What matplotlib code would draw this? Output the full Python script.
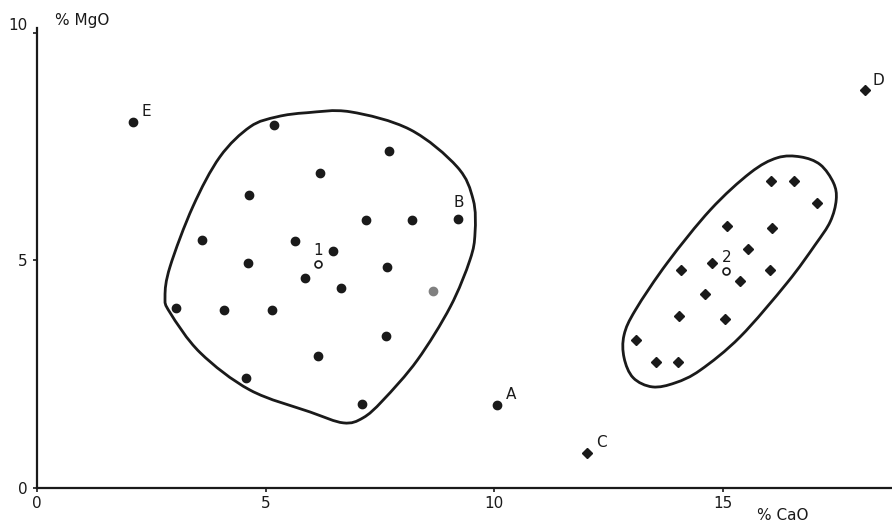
import numpy as np
import matplotlib
matplotlib.use("Agg")
import matplotlib.pyplot as plt
from matplotlib.path import Path
from matplotlib.patches import PathPatch

# ---- data ----
g1_x = [5.19, 7.70, 6.19, 4.64, 7.20, 8.21, 9.21, 3.61, 5.65, 6.48, 4.62,
        7.66, 5.86, 6.65, 3.04, 4.09, 5.14, 7.64, 6.15, 4.57, 7.11]
g1_y = [7.96, 7.41, 6.92, 6.44, 5.89, 5.89, 5.91, 5.45, 5.43, 5.21, 4.95,
        4.86, 4.62, 4.40, 3.96, 3.91, 3.91, 3.34, 2.90, 2.42, 1.85]
grey_x = [8.67]
grey_y = [4.33]

g2_x = [16.06, 16.56, 17.05, 15.10, 16.08, 15.54, 14.77, 14.09, 16.04,
        15.38, 14.60, 14.05, 15.05, 13.09, 13.54, 14.03]
g2_y = [6.75, 6.75, 6.26, 5.76, 5.71, 5.25, 4.95, 4.79, 4.79,
        4.55, 4.26, 3.78, 3.71, 3.25, 2.77, 2.77]

circ_lbl = ["E", "A"]
circ_x = [2.10, 10.07]
circ_y = [8.04, 1.82]
dia_lbl = ["C", "D"]
dia_x = [12.04, 18.10]
dia_y = [0.77, 8.73]

centre_lbl = ["1", "2"]
centre_x = [6.15, 15.08]
centre_y = [4.92, 4.77]

outline1_x = [5.91, 6.85, 8.16, 9.19, 9.54, 9.58, 9.47, 9.04, 8.32, 7.57, 7.13,
              6.70, 5.97, 4.66, 3.57, 2.91, 2.80, 2.91, 3.41, 4.00, 4.66, 5.25]
outline1_y = [8.24, 8.26, 7.87, 7.05, 6.33, 5.60, 5.01, 3.98, 2.81, 1.93, 1.54,
              1.43, 1.67, 2.15, 2.97, 3.85, 4.20, 4.86, 6.18, 7.27, 7.93, 8.15]
outline2_x = [16.19, 16.70, 17.13, 17.42, 17.48, 17.35, 17.02, 16.41, 15.38,
              14.51, 13.96, 13.46, 13.04, 12.84, 12.84, 13.09, 13.79, 14.73, 15.60]
outline2_y = [7.25, 7.27, 7.10, 6.70, 6.33, 5.85, 5.34, 4.51, 3.32,
              2.59, 2.31, 2.22, 2.42, 2.86, 3.36, 3.91, 4.95, 6.11, 6.92]

x_ticks = [0, 5, 10, 15]
y_ticks = [0, 5, 10]
x_label = "% CaO"
y_label = "% MgO"


def closed_smooth_path(xs, ys):
    P = np.column_stack([xs, ys])
    n = len(P)
    verts = [P[0]]
    codes = [Path.MOVETO]
    for i in range(n):
        p0, p1, p2, p3 = P[i - 1], P[i], P[(i + 1) % n], P[(i + 2) % n]
        c1 = p1 + (p2 - p0) / 6.0
        c2 = p2 - (p3 - p1) / 6.0
        verts += [c1, c2, p2]
        codes += [Path.CURVE4] * 3
    return Path(verts, codes)


fig = plt.figure(figsize=(8.92, 5.27), dpi=100)
ax = fig.add_axes([37 / 892, 39 / 527, (892 - 37) / 892, 460 / 527])
ax.set_xlim(0, 18.7)
ax.set_ylim(0, 10.1)

ink = "#1a1a1a"
for xs, ys in [(outline1_x, outline1_y), (outline2_x, outline2_y)]:
    ax.add_patch(PathPatch(closed_smooth_path(xs, ys), fill=False,
                           edgecolor=ink, linewidth=2.0))

ax.plot(g1_x, g1_y, "o", color=ink, markersize=6, linestyle="none")
ax.plot(grey_x, grey_y, "o", color="#808080", markersize=6, linestyle="none")
ax.plot(g2_x, g2_y, "D", color=ink, markersize=5, linestyle="none")
ax.plot(circ_x, circ_y, "o", color=ink, markersize=6, linestyle="none")
ax.plot(dia_x, dia_y, "D", color=ink, markersize=5, linestyle="none")
ax.plot(centre_x, centre_y, "o", markerfacecolor="white", markeredgecolor=ink,
        markersize=5, markeredgewidth=1.2, linestyle="none")

for lbl, x, y in list(zip(circ_lbl, circ_x, circ_y)) + list(zip(dia_lbl, dia_x, dia_y)):
    ax.annotate(lbl, (x, y), xytext=(6, 2), textcoords="offset points",
                fontsize=11, color=ink, va="bottom", ha="left")
ax.annotate("B", (g1_x[6], g1_y[6]), xytext=(-3, 6), textcoords="offset points",
            fontsize=11, color=ink, va="bottom", ha="left")
for lbl, x, y in zip(centre_lbl, centre_x, centre_y):
    ax.annotate(lbl, (x, y), xytext=(0, 4), textcoords="offset points",
                fontsize=11, color=ink, va="bottom", ha="center")

for s in ["top", "right"]:
    ax.spines[s].set_visible(False)
for s in ["left", "bottom"]:
    ax.spines[s].set_linewidth(1.6)
    ax.spines[s].set_color(ink)

ax.set_xticks(x_ticks)
ax.set_yticks(y_ticks)
ax.tick_params(axis="both", labelsize=11, colors=ink, length=3, width=1.2)
ax.tick_params(axis="y", pad=4)
ax.tick_params(axis="x", pad=3)
ax.get_yticklabels()[-1].set_verticalalignment("bottom")

fig.text(757 / 892, 4 / 527, x_label, fontsize=11, color=ink,
         ha="left", va="bottom")
fig.text(55 / 892, 1 - 20 / 527, y_label, fontsize=11, color=ink,
         ha="left", va="center")

fig.savefig("out.png", dpi=100)
